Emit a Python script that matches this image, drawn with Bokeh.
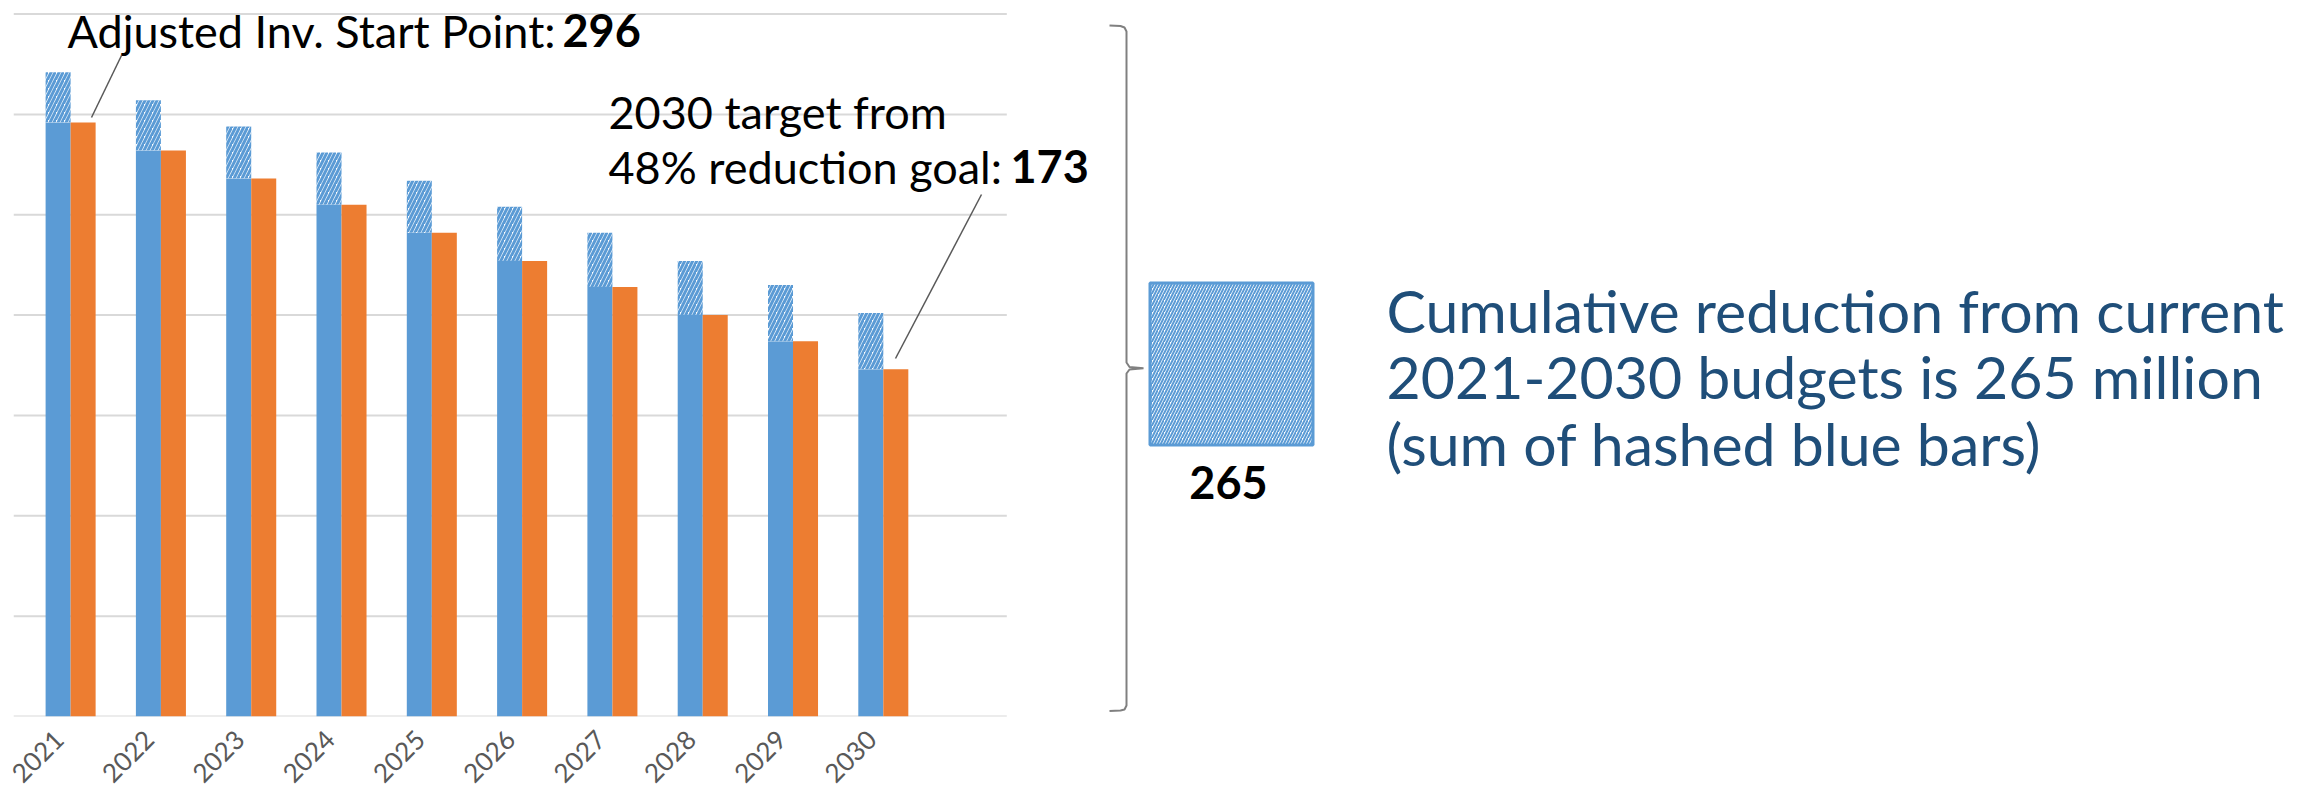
import math
from bokeh.plotting import figure
from bokeh.models import Range1d, FixedTicker
from bokeh.core.properties import value
from bokeh.embed import file_html
from bokeh.resources import INLINE

# ---------------- data ----------------
years = ["2021", "2022", "2023", "2024", "2025", "2026", "2027", "2028", "2029", "2030"]
current_budget = [321, 307, 294, 281, 267, 254, 241, 227, 215, 201]   # full blue bar (incl. hashed part)
adjusted_target = [296, 282, 268, 255, 241, 227, 214, 200, 187, 173]  # solid blue / orange bars
grid_values = [0, 50, 100, 150, 200, 250, 300, 350]
n_categories = 11  # ten years plus one empty slot on the category axis

start_point = adjusted_target[0]
target_2030 = adjusted_target[-1]
cumulative_reduction = sum(c - a for c, a in zip(current_budget, adjusted_target))

# ---------------- style ----------------
BLUE = "#5B9BD5"
ORANGE = "#ED7D31"
GRID = "#D9D9D9"
LABEL_GREY = "#595959"
NAVY = "#1F4E79"
FONT = "Lato"

PX_X = 90.3    # pixels per category
PX_Y = 2.007   # pixels per unit
FRAME_L = 13   # x of the plot frame's left edge
BASE_Y = 716   # y of the zero baseline

def X(px):
    return (px - FRAME_L) / PX_X

def Y(py):
    return (BASE_Y - py) / PX_Y

def TY(py, fs):
    # baseline position compensated for the text layout offset
    return Y(py - 0.35 * fs)

frame_w = 2302 - FRAME_L
frame_h = BASE_Y

p = figure(frame_width=frame_w, frame_height=frame_h,
           output_backend="svg", toolbar_location=None,
           x_range=Range1d(0, frame_w / PX_X), y_range=Range1d(0, frame_h / PX_Y),
           min_border_left=FRAME_L, min_border_right=0, min_border_top=0, min_border_bottom=60)
p.outline_line_color = None
p.xgrid.visible = False
p.ygrid.visible = False
p.yaxis.visible = False
p.background_fill_color = "white"

# gridlines limited to the category area
p.segment(x0=[0] * len(grid_values), x1=[n_categories] * len(grid_values),
          y0=grid_values, y1=grid_values, line_color=GRID, line_width=2)

# bars
idx = list(range(len(years)))
xb = [i + 0.494 for i in idx]
xo = [i + 0.771 for i in idx]
bw = 0.277
p.vbar(x=xb, top=adjusted_target, bottom=0, width=bw, fill_color=BLUE, line_color=None)
p.vbar(x=xb, top=current_budget, bottom=adjusted_target, width=bw, fill_color="white",
       line_color=None, hatch_pattern="/", hatch_color=BLUE, hatch_weight=3, hatch_scale=8)
p.vbar(x=xo, top=adjusted_target, bottom=0, width=bw, fill_color=ORANGE, line_color=None)

# category axis
ticks = [i + 0.5 for i in idx]
p.xaxis.ticker = FixedTicker(ticks=ticks)
p.xaxis.major_label_overrides = {t: y for t, y in zip(ticks, years)}
p.xaxis.major_label_orientation = math.pi / 4
p.xaxis.major_label_text_font = FONT
p.xaxis.major_label_text_font_size = "26px"
p.xaxis.major_label_text_color = LABEL_GREY
p.xaxis.axis_line_color = None
p.xaxis.major_tick_line_color = None
p.xaxis.minor_tick_line_color = None
p.xaxis.major_tick_out = 0
p.xaxis.major_label_standoff = 18

# leader lines
p.segment(x0=[X(121), X(981)], y0=[Y(55), Y(194)], x1=[X(91), X(895)], y1=[Y(117), Y(358)],
          line_color=LABEL_GREY, line_width=1.5)

AFS = 45
ANN = f"{AFS}px"
p.text(x=[X(67)], y=[TY(46, AFS)], text=["Adjusted Inv. Start Point:"], text_font=value(FONT),
       text_font_size=ANN, text_color="black", text_baseline="alphabetic", text_align="left")
p.text(x=[X(562)], y=[TY(46, AFS)], text=[str(start_point)], text_font=value(FONT),
       text_font_style="bold", text_font_size=ANN, text_color="black",
       text_baseline="alphabetic", text_align="left")
p.text(x=[X(608), X(608)], y=[TY(127, AFS), TY(182, AFS)],
       text=["2030 target from", "48% reduction goal:"],
       text_font=value(FONT), text_font_size=ANN, text_color="black",
       text_baseline="alphabetic", text_align="left")
p.text(x=[X(1010)], y=[TY(182, AFS)], text=[str(target_2030)], text_font=value(FONT),
       text_font_style="bold", text_font_size=ANN, text_color="black",
       text_baseline="alphabetic", text_align="left")

# bracket
bx = [1109, 1120, 1124, 1126, 1126, 1129, 1143, 1129, 1126, 1126, 1124, 1120, 1109]
by = [25, 25.5, 27, 31, 362, 366.5, 367.7, 369, 373, 705, 709, 710, 710.5]
p.line(x=[X(v) for v in bx], y=[Y(v) for v in by], line_color="#808080", line_width=2)

# hashed legend box
p.quad(left=[X(1149.5)], right=[X(1312.5)], top=[Y(282.5)], bottom=[Y(444.5)],
       fill_color="white", hatch_pattern="/", hatch_color=BLUE, hatch_weight=2, hatch_scale=6,
       line_color=BLUE, line_width=3)
p.text(x=[X(1228)], y=[TY(498, AFS)], text=[str(cumulative_reduction)], text_font=value(FONT),
       text_font_style="bold", text_font_size=ANN, text_color="black",
       text_baseline="alphabetic", text_align="center")

# explanatory text
RFS = 59
lines = ["Cumulative reduction from current",
         f"2021-2030 budgets is {cumulative_reduction} million",
         "(sum of hashed blue bars)"]
p.text(x=[X(1386)] * 3, y=[TY(331, RFS), TY(397, RFS), TY(464, RFS)], text=lines,
       text_font=value(FONT), text_font_size=f"{RFS}px", text_color=NAVY,
       text_baseline="alphabetic", text_align="left")

open("out.html", "w").write(file_html(p, INLINE))
